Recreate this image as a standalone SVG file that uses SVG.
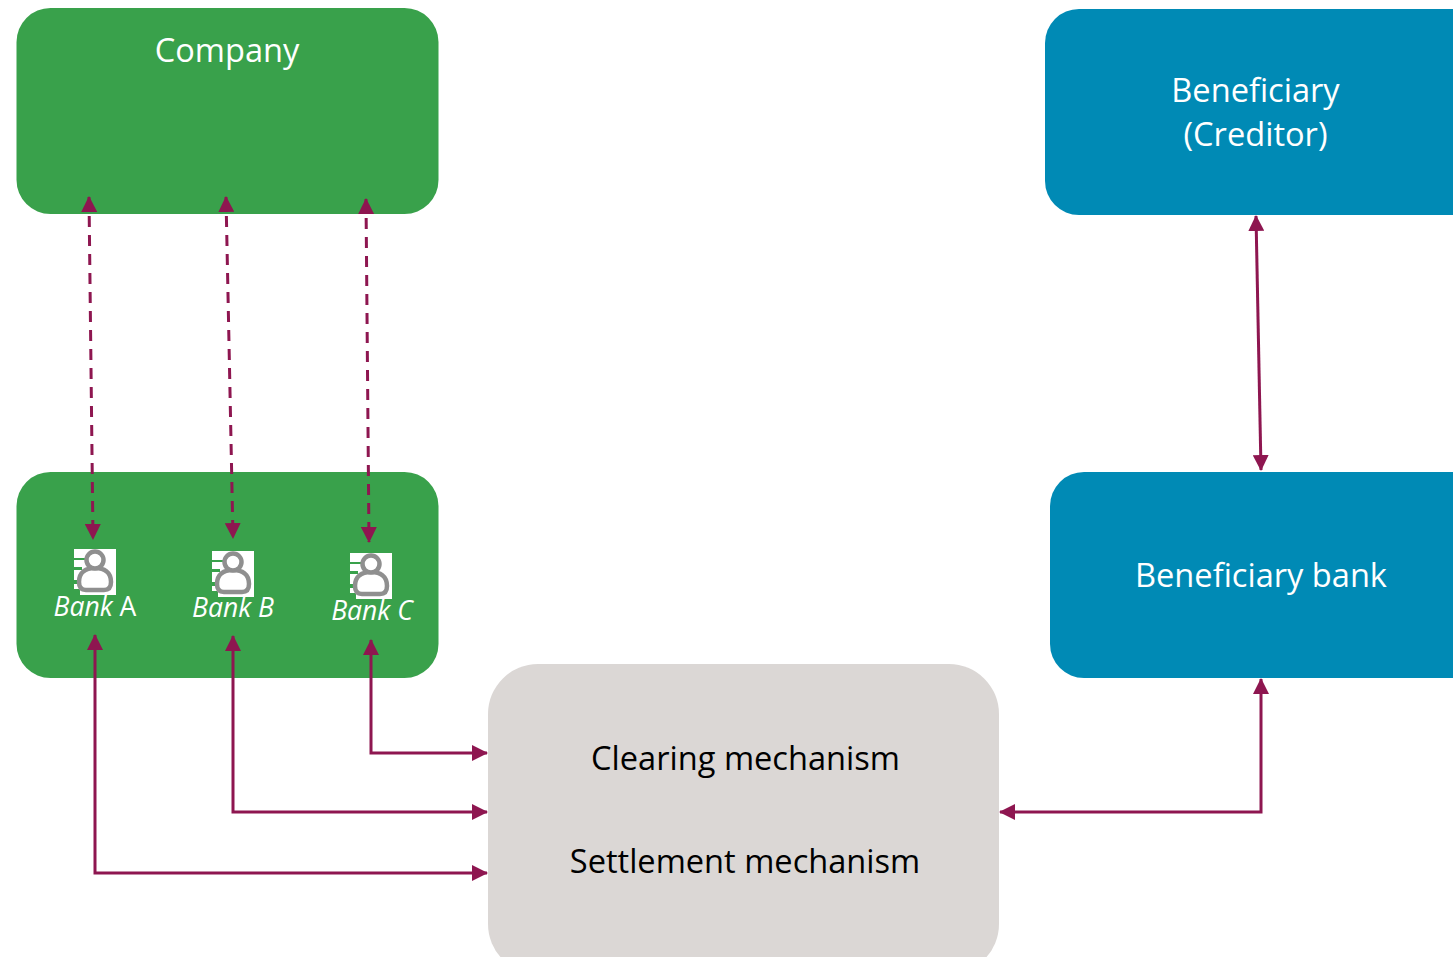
<svg xmlns="http://www.w3.org/2000/svg" width="1453" height="957" viewBox="0 0 1453 957">
<style>
text{font-family:"Open Sans","Noto Sans","Liberation Sans",sans-serif;text-anchor:middle}
.big{font-size:32.6px;fill:#fff}
.dark{font-size:32.6px;fill:#000}
.bank{font-size:26.5px;fill:#fff;font-style:italic}
.up{font-style:normal}
.green{fill:#39a14b}
.blue{fill:#008ab5}
.grey{fill:#dbd7d5}
.conn{fill:none;stroke:#8e1650;stroke-width:3;marker-start:url(#a);marker-end:url(#a)}
.dash{stroke-dasharray:11 8}
.ico-b{fill:#fff;stroke:#8f8f8f;stroke-width:4.5}
</style>
<defs>
<marker id="a" markerUnits="userSpaceOnUse" markerWidth="16" markerHeight="16" refX="15" refY="8" orient="auto-start-reverse"><path d="M0 0L16 8L0 16z" fill="#8e1650"/></marker>
<g id="user">
<rect width="42" height="46" fill="#fff"/>
<path d="M0 9h11v2H0zM0 18h8v3H0zM0 31h3v4H0zM0 40h6v6H0z" fill="#39a14b"/>
<path class="ico-b" d="M5 33C5 23 12 19 21 19S37 23 37 33C37 39 34 41 30 41H12C8 41 5 39 5 33Z"/>
<circle class="ico-b" cx="21" cy="11" r="8.5"/>
</g>
</defs>
<g id="company"><rect class="green" x="16.5" y="8" width="422" height="206" rx="34"/><text class="big" x="227" y="62">Company</text></g>
<g id="banks"><rect class="green" x="16.5" y="472" width="422" height="206" rx="34"/></g>
<g id="bank-a"><use href="#user" x="74" y="549"/><text class="bank" x="95" y="616">Bank <tspan class="up">A</tspan></text></g>
<g id="bank-b"><use href="#user" x="212" y="551"/><text class="bank" x="233" y="617">Bank B</text></g>
<g id="bank-c"><use href="#user" x="350" y="553"/><text class="bank" x="372" y="620">Bank C</text></g>
<g id="beneficiary"><rect class="blue" x="1045" y="9" width="440" height="206" rx="34"/><text class="big" x="1255.5" y="102">Beneficiary</text><text class="big" x="1255.5" y="146">(Creditor)</text></g>
<g id="beneficiary-bank"><rect class="blue" x="1050" y="472" width="440" height="206" rx="34"/><text class="big" x="1261" y="587">Beneficiary bank</text></g>
<g id="mechanism"><rect class="grey" x="488" y="664" width="511" height="310" rx="50"/><text class="dark" x="745.5" y="770">Clearing mechanism</text><text class="dark" x="745" y="873">Settlement mechanism</text></g>
<g id="connectors">
<path class="conn dash" d="M89 197L93 539"/>
<path class="conn dash" d="M226 197L233 538"/>
<path class="conn dash" d="M366 199L369 542"/>
<path class="conn" d="M1256 216L1261 470"/>
<path class="conn" d="M95 635V873H487"/>
<path class="conn" d="M233 636V812H487"/>
<path class="conn" d="M371 640V753H487"/>
<path class="conn" d="M1000 812H1261V679"/>
</g>
</svg>
